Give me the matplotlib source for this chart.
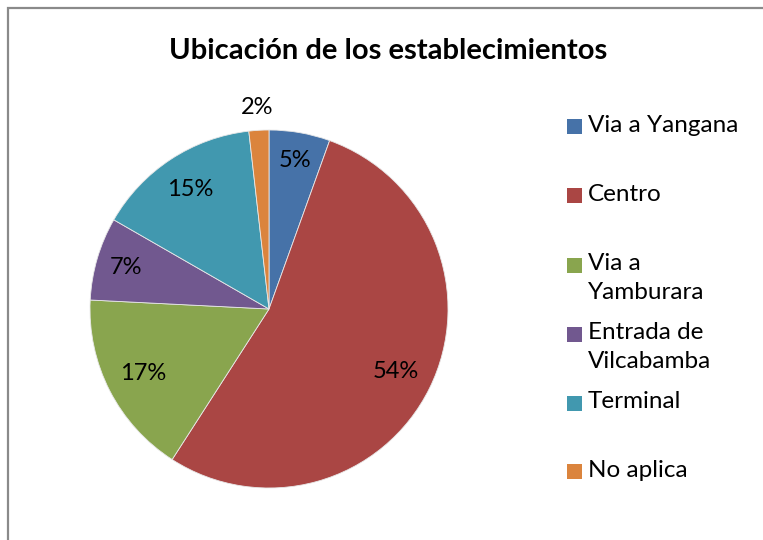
import numpy as np
import matplotlib.pyplot as plt
from matplotlib.patches import Rectangle

# data (share of establishments, %)
categories = ['Via a Yangana', 'Centro', 'Via a\nYamburara', 'Entrada de\nVilcabamba', 'Terminal', 'No aplica']
values = [5.5, 53.6, 16.7, 7.5, 14.9, 1.8]
pct_labels = ['5%', '54%', '17%', '7%', '15%', '2%']
colors = ['#4672A8', '#AA4644', '#89A54E', '#71588F', '#4198AF', '#DB843D']

plt.rcParams['font.family'] = ['Lato', 'DejaVu Sans']

fig = plt.figure(figsize=(7.63, 5.4), dpi=100)

# grey chart border (right/bottom run off the picture)
fig.add_artist(Rectangle((8 / 763, -0.1), 1.2, (540 - 8) / 540 + 0.1, transform=fig.transFigure,
                         fill=False, edgecolor='#8a8a8a', linewidth=1.6))

fig.text(388 / 763, 1 - 51 / 540, 'Ubicación de los establecimientos', ha='center', va='center',
         fontsize=21, fontweight='bold')

# pie
ax = fig.add_axes([(269 - 179) / 763, (231 - 179) / 540, 358 / 763, 358 / 540])
wedges, texts, autotexts = ax.pie(values, colors=colors, startangle=90, counterclock=False,
                                  autopct=lambda p: '', pctdistance=0.8,
                                  wedgeprops=dict(edgecolor='#e8e8e8', linewidth=0.6))
ax.set_aspect('equal')
ax.set_xlim(-1, 1)
ax.set_ylim(-1, 1)

dists = [0.84, 0.79, 0.79, 0.83, 0.8, 1.13]
for at, lab, d, w in zip(autotexts, pct_labels, dists, wedges):
    ang = np.deg2rad((w.theta1 + w.theta2) / 2)
    at.set_position((d * np.cos(ang), d * np.sin(ang)))
    at.set_text(lab)
    at.set_fontsize(17)
    at.set_color('black')

# legend, drawn like the Excel one (square next to first text line)
y0 = 1 - 127 / 540
step = 69 / 540
for i, (cat, col) in enumerate(zip(categories, colors)):
    y = y0 - i * step
    fig.add_artist(Rectangle((567 / 763, y - 7.5 / 540), 15 / 763, 15 / 540,
                             transform=fig.transFigure, facecolor=col, edgecolor='none'))
    fig.text(588 / 763, y + 12 / 540, cat, ha='left', va='top', fontsize=17.5, linespacing=1.5)

plt.savefig('out.png', dpi=100)
